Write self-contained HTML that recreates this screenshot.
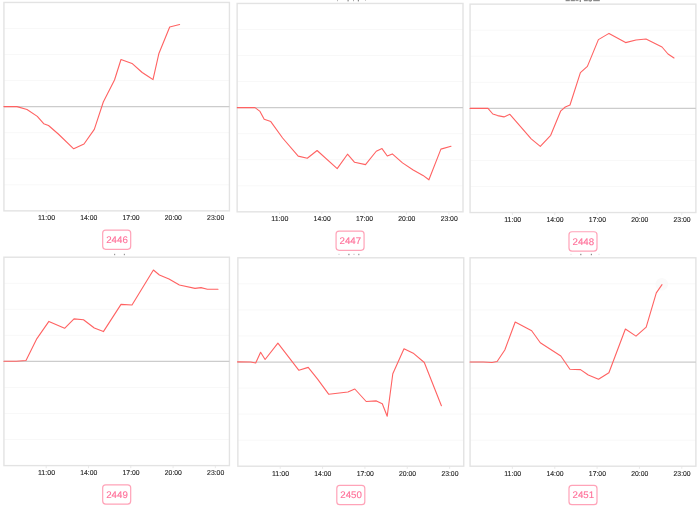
<!DOCTYPE html>
<html><head><meta charset="utf-8"><title>charts</title>
<style>
html,body{margin:0;padding:0;background:#fff;width:700px;height:508px;overflow:hidden}
svg{display:block;will-change:transform;text-rendering:geometricPrecision;font-family:"Liberation Sans",sans-serif}
</style></head><body>
<svg width="700" height="508" viewBox="0 0 700 508">
<rect width="700" height="508" fill="#fff"/>
<g><rect x="337" y="0" width="1" height="1.2" fill="#bbb"/><rect x="347.5" y="0" width="1.2" height="1.4" fill="#888"/><rect x="353" y="0" width="1" height="1.2" fill="#aaa"/><rect x="357.8" y="0" width="1.2" height="1.4" fill="#888"/><rect x="365" y="0" width="1" height="1" fill="#ccc"/><rect x="565.6" y="0" width="4.2" height="1.2" fill="#8a8a8a"/><rect x="570.7" y="0" width="4.2" height="1.2" fill="#8a8a8a"/><rect x="575.5" y="0" width="3" height="1.1" fill="#999"/><rect x="579.6" y="0" width="1.4" height="1.9" fill="#8a8a8a"/><rect x="583.9" y="0" width="3.9" height="1.2" fill="#8a8a8a"/><rect x="588.4" y="0" width="3.6" height="1.2" fill="#8a8a8a"/><rect x="589.6" y="0" width="1.2" height="1.8" fill="#999"/><rect x="593.2" y="0" width="6.6" height="1.2" fill="#8a8a8a"/><rect x="338.5" y="253.8" width="1" height="1.2" fill="#ccc"/><rect x="348.3" y="253.8" width="1.2" height="1.4" fill="#888"/><rect x="353.5" y="253.8" width="1" height="1.2" fill="#bbb"/><rect x="358.2" y="253.8" width="1.2" height="1.4" fill="#999"/><rect x="570.5" y="253.8" width="1" height="1.1" fill="#ddd"/><rect x="580.2" y="253.8" width="1.2" height="1.4" fill="#888"/><rect x="590.8" y="253.8" width="1.2" height="1.4" fill="#888"/><rect x="598.5" y="253.8" width="1" height="1.1" fill="#ddd"/><rect x="114" y="253.8" width="1.2" height="1.4" fill="#999"/><rect x="123.8" y="253.8" width="1.2" height="1.4" fill="#999"/><circle cx="661.8" cy="284.3" r="6.3" fill="#fafafa"/>
<g><line x1="3.94" y1="28.51" x2="229.43" y2="28.51" stroke="#f8f8f8" stroke-width="1"/><line x1="3.94" y1="54.56" x2="229.43" y2="54.56" stroke="#f8f8f8" stroke-width="1"/><line x1="3.94" y1="80.61" x2="229.43" y2="80.61" stroke="#f8f8f8" stroke-width="1"/><line x1="3.94" y1="132.71" x2="229.43" y2="132.71" stroke="#f8f8f8" stroke-width="1"/><line x1="3.94" y1="158.76" x2="229.43" y2="158.76" stroke="#f8f8f8" stroke-width="1"/><line x1="3.94" y1="184.81" x2="229.43" y2="184.81" stroke="#f8f8f8" stroke-width="1"/><rect x="3.94" y="2.46" width="225.49" height="208.4" fill="none" stroke="#e3e3e3" stroke-width="1.4"/><line x1="3.94" y1="106.66" x2="229.43" y2="106.66" stroke="#cccccc" stroke-width="1.25"/><line x1="46.22" y1="210.86" x2="46.22" y2="213.46" stroke="#e3e3e3" stroke-width="0.8"/><text transform="translate(46.52,220.36) scale(1,1.0)" x="0" y="0" text-anchor="middle" font-size="7.1" fill="#222222" stroke="#222222" stroke-width="0.12" textLength="17.1" lengthAdjust="spacingAndGlyphs">11:00</text><line x1="88.5" y1="210.86" x2="88.5" y2="213.46" stroke="#e3e3e3" stroke-width="0.8"/><text transform="translate(88.8,220.36) scale(1,1.0)" x="0" y="0" text-anchor="middle" font-size="7.1" fill="#222222" stroke="#222222" stroke-width="0.12" textLength="17.1" lengthAdjust="spacingAndGlyphs">14:00</text><line x1="130.78" y1="210.86" x2="130.78" y2="213.46" stroke="#e3e3e3" stroke-width="0.8"/><text transform="translate(131.08,220.36) scale(1,1.0)" x="0" y="0" text-anchor="middle" font-size="7.1" fill="#222222" stroke="#222222" stroke-width="0.12" textLength="17.1" lengthAdjust="spacingAndGlyphs">17:00</text><line x1="173.06" y1="210.86" x2="173.06" y2="213.46" stroke="#e3e3e3" stroke-width="0.8"/><text transform="translate(173.36,220.36) scale(1,1.0)" x="0" y="0" text-anchor="middle" font-size="7.1" fill="#222222" stroke="#222222" stroke-width="0.12" textLength="17.1" lengthAdjust="spacingAndGlyphs">20:00</text><line x1="215.34" y1="210.86" x2="215.34" y2="213.46" stroke="#e3e3e3" stroke-width="0.8"/><text transform="translate(215.64,220.36) scale(1,1.0)" x="0" y="0" text-anchor="middle" font-size="7.1" fill="#222222" stroke="#222222" stroke-width="0.12" textLength="17.1" lengthAdjust="spacingAndGlyphs">23:00</text><polyline points="3.9,106.6 17,106.6 27,109.5 37.3,116.4 43.7,123.7 48.5,125.5 58.3,134 73.7,148.8 84,144 94.3,129.4 103.3,102 114.5,80 121,59.5 132,63.4 142.2,72.5 148.7,76.8 153,79.6 158.8,53.8 169.7,27 179.6,24.5" fill="none" stroke="#ff6262" stroke-width="1.1" stroke-linejoin="round" stroke-linecap="round"/><rect x="102.69" y="230.06" width="28" height="19.3" rx="3" ry="3" fill="#fff" stroke="#ffa3b8" stroke-width="1.2"/><text transform="translate(116.98,242.96) scale(1,1.0)" x="0" y="0" text-anchor="middle" font-size="9.6" fill="#ff7099" stroke="#ff7099" stroke-width="0.12" textLength="21.6" lengthAdjust="spacingAndGlyphs">2446</text></g>
<g><line x1="237.14" y1="29.49" x2="463" y2="29.49" stroke="#f8f8f8" stroke-width="1"/><line x1="237.14" y1="55.54" x2="463" y2="55.54" stroke="#f8f8f8" stroke-width="1"/><line x1="237.14" y1="81.59" x2="463" y2="81.59" stroke="#f8f8f8" stroke-width="1"/><line x1="237.14" y1="133.69" x2="463" y2="133.69" stroke="#f8f8f8" stroke-width="1"/><line x1="237.14" y1="159.74" x2="463" y2="159.74" stroke="#f8f8f8" stroke-width="1"/><line x1="237.14" y1="185.79" x2="463" y2="185.79" stroke="#f8f8f8" stroke-width="1"/><rect x="237.14" y="3.44" width="225.86" height="208.4" fill="none" stroke="#e3e3e3" stroke-width="1.4"/><line x1="237.14" y1="107.64" x2="463" y2="107.64" stroke="#cccccc" stroke-width="1.25"/><line x1="279.49" y1="211.84" x2="279.49" y2="214.44" stroke="#e3e3e3" stroke-width="0.8"/><text transform="translate(279.79,221.34) scale(1,1.0)" x="0" y="0" text-anchor="middle" font-size="7.1" fill="#222222" stroke="#222222" stroke-width="0.12" textLength="17.1" lengthAdjust="spacingAndGlyphs">11:00</text><line x1="321.84" y1="211.84" x2="321.84" y2="214.44" stroke="#e3e3e3" stroke-width="0.8"/><text transform="translate(322.14,221.34) scale(1,1.0)" x="0" y="0" text-anchor="middle" font-size="7.1" fill="#222222" stroke="#222222" stroke-width="0.12" textLength="17.1" lengthAdjust="spacingAndGlyphs">14:00</text><line x1="364.19" y1="211.84" x2="364.19" y2="214.44" stroke="#e3e3e3" stroke-width="0.8"/><text transform="translate(364.49,221.34) scale(1,1.0)" x="0" y="0" text-anchor="middle" font-size="7.1" fill="#222222" stroke="#222222" stroke-width="0.12" textLength="17.1" lengthAdjust="spacingAndGlyphs">17:00</text><line x1="406.53" y1="211.84" x2="406.53" y2="214.44" stroke="#e3e3e3" stroke-width="0.8"/><text transform="translate(406.83,221.34) scale(1,1.0)" x="0" y="0" text-anchor="middle" font-size="7.1" fill="#222222" stroke="#222222" stroke-width="0.12" textLength="17.1" lengthAdjust="spacingAndGlyphs">20:00</text><line x1="448.88" y1="211.84" x2="448.88" y2="214.44" stroke="#e3e3e3" stroke-width="0.8"/><text transform="translate(449.18,221.34) scale(1,1.0)" x="0" y="0" text-anchor="middle" font-size="7.1" fill="#222222" stroke="#222222" stroke-width="0.12" textLength="17.1" lengthAdjust="spacingAndGlyphs">23:00</text><polyline points="237.3,107.65 255,107.65 260,111.4 264.2,119.3 270.8,121.6 282.6,138 298.2,156.1 307.3,158.2 317.1,150.5 337.2,168.6 347.5,154.2 354.6,162.3 365.5,164.6 376.25,151.25 382,148.6 387.3,156 392.3,153.9 402.5,162.9 413.2,170 423,175.4 428.9,179.8 440.9,149.1 451,146.25" fill="none" stroke="#ff6262" stroke-width="1.1" stroke-linejoin="round" stroke-linecap="round"/><rect x="336.07" y="231.04" width="28" height="19.3" rx="3" ry="3" fill="#fff" stroke="#ffa3b8" stroke-width="1.2"/><text transform="translate(350.37,243.94) scale(1,1.0)" x="0" y="0" text-anchor="middle" font-size="9.6" fill="#ff7099" stroke="#ff7099" stroke-width="0.12" textLength="21.6" lengthAdjust="spacingAndGlyphs">2447</text></g>
<g><line x1="470.07" y1="30.18" x2="695.9" y2="30.18" stroke="#f8f8f8" stroke-width="1"/><line x1="470.07" y1="56.23" x2="695.9" y2="56.23" stroke="#f8f8f8" stroke-width="1"/><line x1="470.07" y1="82.28" x2="695.9" y2="82.28" stroke="#f8f8f8" stroke-width="1"/><line x1="470.07" y1="134.38" x2="695.9" y2="134.38" stroke="#f8f8f8" stroke-width="1"/><line x1="470.07" y1="160.43" x2="695.9" y2="160.43" stroke="#f8f8f8" stroke-width="1"/><line x1="470.07" y1="186.48" x2="695.9" y2="186.48" stroke="#f8f8f8" stroke-width="1"/><rect x="470.07" y="4.13" width="225.83" height="208.4" fill="none" stroke="#e3e3e3" stroke-width="1.4"/><line x1="470.07" y1="108.33" x2="695.9" y2="108.33" stroke="#cccccc" stroke-width="1.25"/><line x1="512.41" y1="212.53" x2="512.41" y2="215.13" stroke="#e3e3e3" stroke-width="0.8"/><text transform="translate(512.71,222.03) scale(1,1.0)" x="0" y="0" text-anchor="middle" font-size="7.1" fill="#222222" stroke="#222222" stroke-width="0.12" textLength="17.1" lengthAdjust="spacingAndGlyphs">11:00</text><line x1="554.76" y1="212.53" x2="554.76" y2="215.13" stroke="#e3e3e3" stroke-width="0.8"/><text transform="translate(555.06,222.03) scale(1,1.0)" x="0" y="0" text-anchor="middle" font-size="7.1" fill="#222222" stroke="#222222" stroke-width="0.12" textLength="17.1" lengthAdjust="spacingAndGlyphs">14:00</text><line x1="597.1" y1="212.53" x2="597.1" y2="215.13" stroke="#e3e3e3" stroke-width="0.8"/><text transform="translate(597.4,222.03) scale(1,1.0)" x="0" y="0" text-anchor="middle" font-size="7.1" fill="#222222" stroke="#222222" stroke-width="0.12" textLength="17.1" lengthAdjust="spacingAndGlyphs">17:00</text><line x1="639.44" y1="212.53" x2="639.44" y2="215.13" stroke="#e3e3e3" stroke-width="0.8"/><text transform="translate(639.74,222.03) scale(1,1.0)" x="0" y="0" text-anchor="middle" font-size="7.1" fill="#222222" stroke="#222222" stroke-width="0.12" textLength="17.1" lengthAdjust="spacingAndGlyphs">20:00</text><line x1="681.79" y1="212.53" x2="681.79" y2="215.13" stroke="#e3e3e3" stroke-width="0.8"/><text transform="translate(682.09,222.03) scale(1,1.0)" x="0" y="0" text-anchor="middle" font-size="7.1" fill="#222222" stroke="#222222" stroke-width="0.12" textLength="17.1" lengthAdjust="spacingAndGlyphs">23:00</text><polyline points="470.1,108.4 488,108.4 492.8,114 497.6,115.6 504,116.9 509.9,114.3 531.2,138.8 540.3,146.3 550.7,135.3 560.8,110.8 565.3,107 570,105 580.4,72.6 587.4,66.4 598.4,39.6 609,33.4 625.6,42.6 636,40 646,39 662,47 668,54 674,58" fill="none" stroke="#ff6262" stroke-width="1.1" stroke-linejoin="round" stroke-linecap="round"/><rect x="568.99" y="231.73" width="28" height="19.3" rx="3" ry="3" fill="#fff" stroke="#ffa3b8" stroke-width="1.2"/><text transform="translate(583.28,244.63) scale(1,1.0)" x="0" y="0" text-anchor="middle" font-size="9.6" fill="#ff7099" stroke="#ff7099" stroke-width="0.12" textLength="21.6" lengthAdjust="spacingAndGlyphs">2448</text></g>
<g><line x1="3.94" y1="283.25" x2="229.43" y2="283.25" stroke="#f8f8f8" stroke-width="1"/><line x1="3.94" y1="309.3" x2="229.43" y2="309.3" stroke="#f8f8f8" stroke-width="1"/><line x1="3.94" y1="335.35" x2="229.43" y2="335.35" stroke="#f8f8f8" stroke-width="1"/><line x1="3.94" y1="387.45" x2="229.43" y2="387.45" stroke="#f8f8f8" stroke-width="1"/><line x1="3.94" y1="413.5" x2="229.43" y2="413.5" stroke="#f8f8f8" stroke-width="1"/><line x1="3.94" y1="439.55" x2="229.43" y2="439.55" stroke="#f8f8f8" stroke-width="1"/><rect x="3.94" y="257.2" width="225.49" height="208.4" fill="none" stroke="#e3e3e3" stroke-width="1.4"/><line x1="3.94" y1="361.4" x2="229.43" y2="361.4" stroke="#cccccc" stroke-width="1.25"/><line x1="46.22" y1="465.6" x2="46.22" y2="468.2" stroke="#e3e3e3" stroke-width="0.8"/><text transform="translate(46.52,475.1) scale(1,1.0)" x="0" y="0" text-anchor="middle" font-size="7.1" fill="#222222" stroke="#222222" stroke-width="0.12" textLength="17.1" lengthAdjust="spacingAndGlyphs">11:00</text><line x1="88.5" y1="465.6" x2="88.5" y2="468.2" stroke="#e3e3e3" stroke-width="0.8"/><text transform="translate(88.8,475.1) scale(1,1.0)" x="0" y="0" text-anchor="middle" font-size="7.1" fill="#222222" stroke="#222222" stroke-width="0.12" textLength="17.1" lengthAdjust="spacingAndGlyphs">14:00</text><line x1="130.78" y1="465.6" x2="130.78" y2="468.2" stroke="#e3e3e3" stroke-width="0.8"/><text transform="translate(131.08,475.1) scale(1,1.0)" x="0" y="0" text-anchor="middle" font-size="7.1" fill="#222222" stroke="#222222" stroke-width="0.12" textLength="17.1" lengthAdjust="spacingAndGlyphs">17:00</text><line x1="173.06" y1="465.6" x2="173.06" y2="468.2" stroke="#e3e3e3" stroke-width="0.8"/><text transform="translate(173.36,475.1) scale(1,1.0)" x="0" y="0" text-anchor="middle" font-size="7.1" fill="#222222" stroke="#222222" stroke-width="0.12" textLength="17.1" lengthAdjust="spacingAndGlyphs">20:00</text><line x1="215.34" y1="465.6" x2="215.34" y2="468.2" stroke="#e3e3e3" stroke-width="0.8"/><text transform="translate(215.64,475.1) scale(1,1.0)" x="0" y="0" text-anchor="middle" font-size="7.1" fill="#222222" stroke="#222222" stroke-width="0.12" textLength="17.1" lengthAdjust="spacingAndGlyphs">23:00</text><polyline points="3.9,361.2 16.3,361.2 26,360.5 36.9,338.6 48.9,321.4 64.6,328.3 74,318.9 83.5,319.7 94.3,328 103.4,331.6 121,304.4 132,305 153.4,270 159.4,275 169,279 179.4,285 195,288.4 201,287.6 207.4,289.2 218,289.2" fill="none" stroke="#ff6262" stroke-width="1.1" stroke-linejoin="round" stroke-linecap="round"/><rect x="102.69" y="484.8" width="28" height="19.3" rx="3" ry="3" fill="#fff" stroke="#ffa3b8" stroke-width="1.2"/><text transform="translate(116.98,497.7) scale(1,1.0)" x="0" y="0" text-anchor="middle" font-size="9.6" fill="#ff7099" stroke="#ff7099" stroke-width="0.12" textLength="21.6" lengthAdjust="spacingAndGlyphs">2449</text></g>
<g><line x1="237.86" y1="283.85" x2="463.75" y2="283.85" stroke="#f8f8f8" stroke-width="1"/><line x1="237.86" y1="309.9" x2="463.75" y2="309.9" stroke="#f8f8f8" stroke-width="1"/><line x1="237.86" y1="335.95" x2="463.75" y2="335.95" stroke="#f8f8f8" stroke-width="1"/><line x1="237.86" y1="388.05" x2="463.75" y2="388.05" stroke="#f8f8f8" stroke-width="1"/><line x1="237.86" y1="414.1" x2="463.75" y2="414.1" stroke="#f8f8f8" stroke-width="1"/><line x1="237.86" y1="440.15" x2="463.75" y2="440.15" stroke="#f8f8f8" stroke-width="1"/><rect x="237.86" y="257.8" width="225.89" height="208.4" fill="none" stroke="#e3e3e3" stroke-width="1.4"/><line x1="237.86" y1="362" x2="463.75" y2="362" stroke="#cccccc" stroke-width="1.25"/><line x1="280.21" y1="466.2" x2="280.21" y2="468.8" stroke="#e3e3e3" stroke-width="0.8"/><text transform="translate(280.51,475.7) scale(1,1.0)" x="0" y="0" text-anchor="middle" font-size="7.1" fill="#222222" stroke="#222222" stroke-width="0.12" textLength="17.1" lengthAdjust="spacingAndGlyphs">11:00</text><line x1="322.57" y1="466.2" x2="322.57" y2="468.8" stroke="#e3e3e3" stroke-width="0.8"/><text transform="translate(322.87,475.7) scale(1,1.0)" x="0" y="0" text-anchor="middle" font-size="7.1" fill="#222222" stroke="#222222" stroke-width="0.12" textLength="17.1" lengthAdjust="spacingAndGlyphs">14:00</text><line x1="364.92" y1="466.2" x2="364.92" y2="468.8" stroke="#e3e3e3" stroke-width="0.8"/><text transform="translate(365.22,475.7) scale(1,1.0)" x="0" y="0" text-anchor="middle" font-size="7.1" fill="#222222" stroke="#222222" stroke-width="0.12" textLength="17.1" lengthAdjust="spacingAndGlyphs">17:00</text><line x1="407.28" y1="466.2" x2="407.28" y2="468.8" stroke="#e3e3e3" stroke-width="0.8"/><text transform="translate(407.58,475.7) scale(1,1.0)" x="0" y="0" text-anchor="middle" font-size="7.1" fill="#222222" stroke="#222222" stroke-width="0.12" textLength="17.1" lengthAdjust="spacingAndGlyphs">20:00</text><line x1="449.63" y1="466.2" x2="449.63" y2="468.8" stroke="#e3e3e3" stroke-width="0.8"/><text transform="translate(449.93,475.7) scale(1,1.0)" x="0" y="0" text-anchor="middle" font-size="7.1" fill="#222222" stroke="#222222" stroke-width="0.12" textLength="17.1" lengthAdjust="spacingAndGlyphs">23:00</text><polyline points="237.5,361.9 250.7,362 255.7,363 260.6,352.2 265.1,359.5 277.9,343.2 298.9,370.3 308.2,367.4 317.6,379.2 328.8,394.3 347.9,392 354.8,389 366.2,401.5 376.4,400.9 382.3,403.8 387.2,416.2 392.8,373.7 404,348.7 413.8,353.6 424.3,362.5 441.4,405.8" fill="none" stroke="#ff6262" stroke-width="1.1" stroke-linejoin="round" stroke-linecap="round"/><rect x="336.81" y="485.4" width="28" height="19.3" rx="3" ry="3" fill="#fff" stroke="#ffa3b8" stroke-width="1.2"/><text transform="translate(351.11,498.3) scale(1,1.0)" x="0" y="0" text-anchor="middle" font-size="9.6" fill="#ff7099" stroke="#ff7099" stroke-width="0.12" textLength="21.6" lengthAdjust="spacingAndGlyphs">2450</text></g>
<g><line x1="470.07" y1="283.85" x2="695.9" y2="283.85" stroke="#f8f8f8" stroke-width="1"/><line x1="470.07" y1="309.9" x2="695.9" y2="309.9" stroke="#f8f8f8" stroke-width="1"/><line x1="470.07" y1="335.95" x2="695.9" y2="335.95" stroke="#f8f8f8" stroke-width="1"/><line x1="470.07" y1="388.05" x2="695.9" y2="388.05" stroke="#f8f8f8" stroke-width="1"/><line x1="470.07" y1="414.1" x2="695.9" y2="414.1" stroke="#f8f8f8" stroke-width="1"/><line x1="470.07" y1="440.15" x2="695.9" y2="440.15" stroke="#f8f8f8" stroke-width="1"/><rect x="470.07" y="257.8" width="225.83" height="208.4" fill="none" stroke="#e3e3e3" stroke-width="1.4"/><line x1="470.07" y1="362" x2="695.9" y2="362" stroke="#cccccc" stroke-width="1.25"/><line x1="512.41" y1="466.2" x2="512.41" y2="468.8" stroke="#e3e3e3" stroke-width="0.8"/><text transform="translate(512.71,475.7) scale(1,1.0)" x="0" y="0" text-anchor="middle" font-size="7.1" fill="#222222" stroke="#222222" stroke-width="0.12" textLength="17.1" lengthAdjust="spacingAndGlyphs">11:00</text><line x1="554.76" y1="466.2" x2="554.76" y2="468.8" stroke="#e3e3e3" stroke-width="0.8"/><text transform="translate(555.06,475.7) scale(1,1.0)" x="0" y="0" text-anchor="middle" font-size="7.1" fill="#222222" stroke="#222222" stroke-width="0.12" textLength="17.1" lengthAdjust="spacingAndGlyphs">14:00</text><line x1="597.1" y1="466.2" x2="597.1" y2="468.8" stroke="#e3e3e3" stroke-width="0.8"/><text transform="translate(597.4,475.7) scale(1,1.0)" x="0" y="0" text-anchor="middle" font-size="7.1" fill="#222222" stroke="#222222" stroke-width="0.12" textLength="17.1" lengthAdjust="spacingAndGlyphs">17:00</text><line x1="639.44" y1="466.2" x2="639.44" y2="468.8" stroke="#e3e3e3" stroke-width="0.8"/><text transform="translate(639.74,475.7) scale(1,1.0)" x="0" y="0" text-anchor="middle" font-size="7.1" fill="#222222" stroke="#222222" stroke-width="0.12" textLength="17.1" lengthAdjust="spacingAndGlyphs">20:00</text><line x1="681.79" y1="466.2" x2="681.79" y2="468.8" stroke="#e3e3e3" stroke-width="0.8"/><text transform="translate(682.09,475.7) scale(1,1.0)" x="0" y="0" text-anchor="middle" font-size="7.1" fill="#222222" stroke="#222222" stroke-width="0.12" textLength="17.1" lengthAdjust="spacingAndGlyphs">23:00</text><polyline points="470,362 483.2,362 492,362.5 497.1,361.5 504.8,350 515.2,322 531.7,330.8 540.3,342.8 560.8,356 569.9,369.2 580.5,369.6 588.3,375 598.5,379.3 608.9,372.7 625.4,329 636,336.1 646.2,327.1 656.3,292.9 662,284.6" fill="none" stroke="#ff6262" stroke-width="1.1" stroke-linejoin="round" stroke-linecap="round"/><rect x="568.99" y="485.4" width="28" height="19.3" rx="3" ry="3" fill="#fff" stroke="#ffa3b8" stroke-width="1.2"/><text transform="translate(583.28,498.3) scale(1,1.0)" x="0" y="0" text-anchor="middle" font-size="9.6" fill="#ff7099" stroke="#ff7099" stroke-width="0.12" textLength="21.6" lengthAdjust="spacingAndGlyphs">2451</text></g></g>
</svg>
</body></html>
